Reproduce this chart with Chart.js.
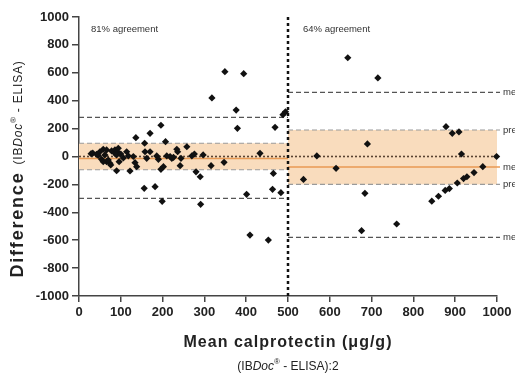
<!DOCTYPE html>
<html>
<head>
<meta charset="utf-8">
<script src="https://cdn.jsdelivr.net/npm/chart.js@4"></script>
<style>
  body { margin: 0; background: #fff; }
  #wrap { width: 515px; height: 374px; }
</style>
</head>
<body>
<div id="wrap"><canvas id="chart"></canvas></div>
<script>
// Bland-Altman: mean calprotectin vs difference (IBDoc - ELISA)
const meanX = [
  29, 33, 42, 46, 50, 54, 58, 66, 62, 66, 74, 58, 70, 78, 86, 86, 92, 90, 94, 96, 90, 76, 100, 106,
  114, 118, 122, 130, 134, 138, 158, 162, 170, 186, 190, 202, 196, 210, 218, 222, 226, 234, 236, 244,
  136, 157, 170, 196, 207, 258, 156, 182, 199,
  270, 276, 297, 242, 316, 347, 280, 290, 291,
  318, 349, 394, 376, 379, 433, 401, 409, 453, 465, 463, 483, 469, 488, 494,
  537, 569, 615, 643, 676, 684, 690, 715, 760, 844, 860, 876, 886, 905, 920, 928, 945, 966,
  878, 893, 909, 915, 999
];
const diffY = [
  20, 24, 16, 8, 34, -20, 52, 47, 11, -37, -49, -37, -25, 40, 23, 47, 34, 11, 59, -37, -102, -61, 18, -10,
  34, 4, -104, 0, -44, -73, 34, -13, 34, 4, -20, -73, -92, 4, 0, -13, -6, 52, 34, -13,
  135, 95, 166, 224, 106, 70, -228, -216, -321,
  4, 18, 11, -66, -66, -42, -110, -145, -343,
  420, 608, 594, 333, 202, 23, -271, -563, -599, -121, -235, -259, 209, 300, 320,
  -164, 4, -85, 708, -532, -264, 90, 563, -484, -320, -285, -243, -230, -190, -158, -145, -115, -73,
  214, 166, 176, 18, 0
];

// reference lines, [from x, to x]
const rangeLow = [0, 500];
const rangeHigh = [500, 1000];
const limitsLow = [280, -300];     // mean +/- 1.96 SD, < 500
const limitsHigh = [460, -580];    // mean +/- 1.96 SD, >= 500
const bandLow = [95, -95];         // predefined limits, < 500
const bandHigh = [190, -200];      // predefined limits, >= 500
const meanLow = -15;
const meanHigh = -75;
const agreement = ["81% agreement", "64% agreement"];
const sideLabels = ["mean+1.96SD", "predefined limit", "mean bias", "predefined limit", "mean-1.96SD"];

const FONT = '"Liberation Sans", Arial, sans-serif';

function hLine(ctx, x0, x1, y, color, dash, w) {
  ctx.save();
  ctx.strokeStyle = color;
  ctx.lineWidth = w;
  ctx.setLineDash(dash);
  ctx.beginPath();
  ctx.moveTo(x0, y);
  ctx.lineTo(x1, y);
  ctx.stroke();
  ctx.restore();
}

const refPlugin = {
  id: "refs",
  beforeDatasetsDraw(chart) {
    const { ctx, scales: { x, y } } = chart;
    const lx0 = x.getPixelForValue(rangeLow[0]), lx1 = x.getPixelForValue(rangeLow[1]);
    const rx0 = x.getPixelForValue(rangeHigh[0]), rx1 = x.getPixelForValue(rangeHigh[1]);
    const ext = rx1 + 3;

    // bands
    ctx.save();
    ctx.fillStyle = "#f9dcbd";
    ctx.fillRect(lx0, y.getPixelForValue(bandLow[0]), lx1 - lx0, y.getPixelForValue(bandLow[1]) - y.getPixelForValue(bandLow[0]));
    ctx.fillRect(rx0, y.getPixelForValue(bandHigh[0]), rx1 - rx0, y.getPixelForValue(bandHigh[1]) - y.getPixelForValue(bandHigh[0]));
    ctx.restore();

    bandLow.forEach(v => hLine(ctx, lx0, lx1, y.getPixelForValue(v), "#9a9a9a", [5, 3], 1.2));
    bandHigh.forEach(v => hLine(ctx, rx0, ext, y.getPixelForValue(v), "#9a9a9a", [5, 3], 1.2));
    limitsLow.forEach(v => hLine(ctx, lx0, lx1, y.getPixelForValue(v), "#555", [5, 3], 1.2));
    limitsHigh.forEach(v => hLine(ctx, rx0, ext, y.getPixelForValue(v), "#555", [5, 3], 1.2));

    // means
    hLine(ctx, lx0, lx1, y.getPixelForValue(meanLow), "#e89a55", [], 1.5);
    hLine(ctx, rx0, ext, y.getPixelForValue(meanHigh), "#e89a55", [], 1.5);

    // zero line
    hLine(ctx, lx0, rx1, y.getPixelForValue(0), "#5a4433", [2, 2], 1.6);

    // split at 500
    ctx.save();
    ctx.strokeStyle = "#111";
    ctx.lineWidth = 2.5;
    ctx.setLineDash([3, 3]);
    ctx.beginPath();
    ctx.moveTo(rx0, y.getPixelForValue(1000));
    ctx.lineTo(rx0, y.bottom);
    ctx.stroke();
    ctx.restore();

    // texts
    ctx.save();
    ctx.fillStyle = "#333";
    ctx.font = "9.5px " + FONT;
    ctx.textBaseline = "middle";
    ctx.textAlign = "left";
    ctx.fillText(agreement[0], lx0 + 12, y.top + 12);
    ctx.fillText(agreement[1], rx0 + 15, y.top + 12);
    const sideY = [limitsHigh[0], bandHigh[0], meanHigh, bandHigh[1], limitsHigh[1]];
    sideY.forEach((v, i) => ctx.fillText(sideLabels[i], ext + 3, y.getPixelForValue(v)));
    ctx.restore();
  },
  afterDraw(chart) {
    const { ctx } = chart;
    ctx.save();
    ctx.fillStyle = "#222";
    // x title
    ctx.textAlign = "center";
    ctx.textBaseline = "middle";
    ctx.font = "bold 16px " + FONT;
    ctx.letterSpacing = "1px";
    ctx.fillText("Mean calprotectin (\u03bcg/g)", 288, 343);
    ctx.letterSpacing = "0px";
    drawSub(ctx, 288, 366);

    // y title
    ctx.translate(23, 169);
    ctx.rotate(-Math.PI / 2);
    ctx.textBaseline = "alphabetic";
    ctx.font = "bold 18px " + FONT;
    ctx.letterSpacing = "1.8px";
    const w1 = ctx.measureText("Difference").width;
    ctx.letterSpacing = "0.8px";
    const w2 = subWidth(ctx);
    const gap = 7;
    const start = -(w1 + gap + w2) / 2;
    ctx.textAlign = "left";
    ctx.font = "bold 18px " + FONT;
    ctx.letterSpacing = "1.8px";
    ctx.fillText("Difference", start, 0);
    ctx.letterSpacing = "0.8px";
    drawSubAt(ctx, start + w1 + gap, -1);
    ctx.letterSpacing = "0px";
    ctx.restore();
  }
};

// "(IBDoc® - ELISA)" with italic Doc and superscript ®
const subParts = [
  ["(IB", "12px", 0],
  ["Doc", "italic 12px", 0],
  ["\u00ae", "8px", -6],
  [" - ELISA)", "12px", 0]
];
function subWidth(ctx) {
  let w = 0;
  subParts.forEach(p => { ctx.font = p[1] + " " + FONT; w += ctx.measureText(p[0]).width; });
  return w;
}
function drawSubAt(ctx, x0, y0) {
  let x = x0;
  ctx.textAlign = "left";
  subParts.forEach(p => {
    ctx.font = p[1] + " " + FONT;
    ctx.fillText(p[0], x, y0 + p[2]);
    x += ctx.measureText(p[0]).width;
  });
  return x;
}
function drawSub(ctx, cx, cy) {
  ctx.save();
  ctx.textBaseline = "alphabetic";
  ctx.font = "12px " + FONT;
  const tail = ":2";
  const w = subWidth(ctx) + ctx.measureText(tail).width;
  const endX = drawSubAt(ctx, cx - w / 2, cy + 4);
  ctx.font = "12px " + FONT;
  ctx.fillText(tail, endX, cy + 4);
  ctx.restore();
}

window.onload = () => {
  const ctx = document.getElementById("chart").getContext("2d");
  const pts = meanX.map((v, i) => ({ x: v, y: diffY[i] }));
  const tickFont = { family: FONT, size: 13, weight: "bold" };
  new Chart(ctx, {
    type: "scatter",
    data: {
      datasets: [{
        data: pts,
        pointStyle: "rectRot",
        radius: 3.6,
        backgroundColor: "#111",
        borderColor: "#111",
        borderWidth: 0,
        clip: false
      }]
    },
    options: {
      responsive: true,
      maintainAspectRatio: false,
      animation: false,
      events: [],
      layout: { padding: { top: 17, right: 18, left: 0, bottom: 0 } },
      plugins: { legend: { display: false }, tooltip: { enabled: false } },
      scales: {
        x: {
          type: "linear",
          min: 0, max: 1000,
          afterFit: s => { s.height = 78; },
          ticks: { stepSize: 100, color: "#222", font: tickFont, padding: 3, maxRotation: 0, callback: v => String(v) },
          grid: { drawOnChartArea: false, drawTicks: true, tickLength: 6, color: "#444", lineWidth: 1.5 },
          border: { color: "#444", width: 1.5 }
        },
        y: {
          min: -1000, max: 1000,
          afterFit: s => { s.width = 79; },
          ticks: { stepSize: 200, color: "#222", font: tickFont, padding: 3, callback: v => String(v) },
          grid: { drawOnChartArea: false, drawTicks: true, tickLength: 7, color: "#444", lineWidth: 1.5 },
          border: { color: "#444", width: 1.5 }
        }
      }
    },
    plugins: [refPlugin]
  });
};
</script>
</body>
</html>
